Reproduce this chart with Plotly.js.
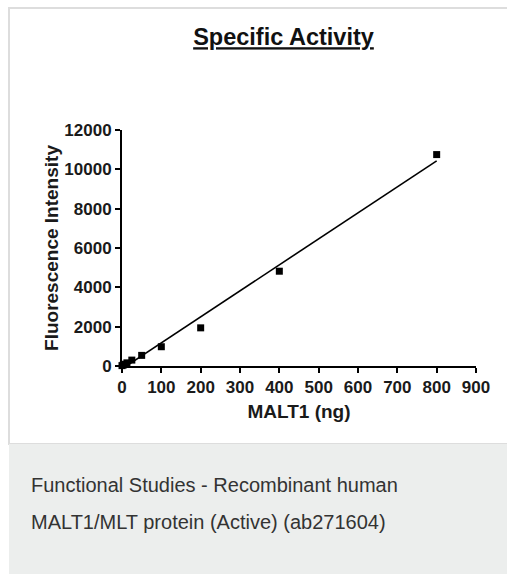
<!DOCTYPE html>
<html>
<head>
<meta charset="utf-8">
<script src="https://cdn.plot.ly/plotly-3.0.1.min.js"></script>
<style>
html,body{margin:0;padding:0;background:#ffffff;overflow:hidden;width:507px;height:574px;}
#card{position:absolute;left:8px;top:7px;width:520px;height:434px;border:2px solid #dddddd;background:#ffffff;}
#band{position:absolute;left:9px;top:444px;width:520px;height:140px;background:#eceeed;}
#chart{position:absolute;left:0;top:0;width:507px;height:574px;}
</style>
</head>
<body>
<div id="card"></div>
<div id="band"></div>
<div id="chart"></div>
<script>
// ---- data ----
var maltNg = [0, 3.125, 6.25, 12.5, 25, 50, 100, 200, 400, 800];
var fluorescence = [20, 50, 90, 160, 300, 540, 980, 1940, 4820, 10750];
var xTickVals = [0, 100, 200, 300, 400, 500, 600, 700, 800, 900];
var xTickText = ["0", "100", "200", "300", "400", "500", "600", "700", "800", "900"];
var yTickVals = [0, 2000, 4000, 6000, 8000, 10000, 12000];
var yTickText = ["0", "2000", "4000", "6000", "8000", "10000", "12000"];
var chartTitle = "Specific Activity";
var xTitle = "MALT1 (ng)";
var yTitle = "Fluorescence Intensity";
var captionLines = ["Functional Studies - Recombinant human", "MALT1/MLT protein (Active) (ab271604)"];

// linear regression fitted from the data
function linFit(xs, ys) {
  var n = xs.length, sx = 0, sy = 0, sxx = 0, sxy = 0;
  for (var i = 0; i < n; i++) { sx += xs[i]; sy += ys[i]; sxx += xs[i]*xs[i]; sxy += xs[i]*ys[i]; }
  var m = (n*sxy - sx*sy) / (n*sxx - sx*sx);
  var b = (sy - m*sx) / n;
  return {m: m, b: b};
}
var fit = linFit(maltNg, fluorescence);
var fitX = [0, maltNg[maltNg.length-1]];
var fitY = fitX.map(function(x){ return fit.m*x + fit.b; });

// ---- layout geometry (pixels) ----
var W = 507, H = 574;
var L = 122, R = 476, T = 130, B = 366;
function px(x){ return (x - L) / (R - L); }
function py(y){ return (B - y) / (B - T); }

var FONT = "Liberation Sans, Arial, Helvetica, sans-serif";

var traces = [
  {
    x: fitX, y: fitY, type: "scatter", mode: "lines",
    line: {color: "#000000", width: 1.6}, hoverinfo: "skip", showlegend: false
  },
  {
    x: maltNg, y: fluorescence, type: "scatter", mode: "markers",
    marker: {symbol: "square", size: 7, color: "#000000"},
    cliponaxis: false, showlegend: false
  }
];

var axisCommon = {
  showline: true, linecolor: "#000000", linewidth: 2,
  ticks: "outside", ticklen: 5, tickwidth: 2, tickcolor: "#000000",
  showgrid: false, zeroline: false, fixedrange: true,
  tickfont: {family: FONT, size: 17, color: "#1a1a1a", weight: "bold"}
};

var layout = {
  width: W, height: H,
  margin: {l: L, r: W - R, t: T, b: H - B, pad: 0},
  paper_bgcolor: "rgba(0,0,0,0)",
  plot_bgcolor: "rgba(0,0,0,0)",
  showlegend: false,
  title: {
    text: "<b><u>" + chartTitle + "</u></b>",
    font: {family: FONT, size: 23.5, color: "#111111"},
    xref: "container", yref: "container",
    x: 283.5 / W, y: 1 - 37 / H, xanchor: "center", yanchor: "middle"
  },
  xaxis: Object.assign({}, axisCommon, {
    range: [0, 900], tickmode: "array", tickvals: xTickVals, ticktext: xTickText,
    title: {text: "<b>" + xTitle + "</b>", font: {family: FONT, size: 19, color: "#1a1a1a"}, standoff: 8}
  }),
  yaxis: Object.assign({}, axisCommon, {
    range: [0, 12000], tickmode: "array", tickvals: yTickVals, ticktext: yTickText,
    title: {text: "<b>" + yTitle + "</b>", font: {family: FONT, size: 19, color: "#1a1a1a"}, standoff: 1}
  }),
  annotations: [
    {text: captionLines[0], xref: "paper", yref: "paper", x: px(29), y: py(485),
     xanchor: "left", yanchor: "middle", showarrow: false,
     font: {family: FONT, size: 20, color: "#333333"}},
    {text: captionLines[1], xref: "paper", yref: "paper", x: px(29), y: py(522),
     xanchor: "left", yanchor: "middle", showarrow: false,
     font: {family: FONT, size: 20, color: "#333333"}}
  ]
};

Plotly.newPlot("chart", traces, layout, {displayModeBar: false, staticPlot: true});
</script>
</body>
</html>
